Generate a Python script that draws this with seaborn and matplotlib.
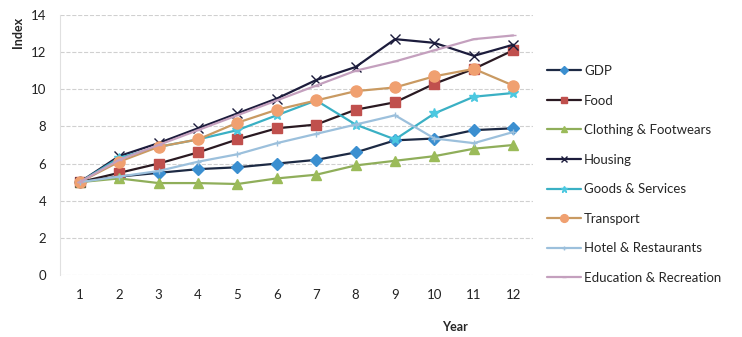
import pandas as pd
import seaborn as sns
import matplotlib.pyplot as plt

years = list(range(1, 13))
gdp = [5.0, 5.3, 5.5, 5.7, 5.8, 6.0, 6.2, 6.6, 7.25, 7.35, 7.8, 7.9]
food = [5.0, 5.5, 6.0, 6.6, 7.3, 7.9, 8.1, 8.9, 9.3, 10.3, 11.1, 12.1]
clothing = [5.0, 5.2, 4.95, 4.95, 4.9, 5.2, 5.4, 5.9, 6.15, 6.4, 6.8, 7.0]
housing = [5.0, 6.4, 7.1, 7.9, 8.7, 9.5, 10.5, 11.2, 12.7, 12.5, 11.8, 12.4]
goods = [5.0, 6.3, 6.9, 7.3, 7.8, 8.6, 9.4, 8.1, 7.3, 8.7, 9.6, 9.8]
transport = [5.0, 6.1, 6.9, 7.3, 8.2, 8.9, 9.4, 9.9, 10.1, 10.7, 11.1, 10.2]
hotel = [5.0, 5.3, 5.6, 6.1, 6.5, 7.1, 7.6, 8.1, 8.6, 7.35, 7.1, 7.7]
education = [5.0, 6.2, 7.0, 7.8, 8.6, 9.4, 10.2, 11.0, 11.5, 12.1, 12.7, 12.9]

names = ["GDP", "Food", "Clothing & Footwears", "Housing", "Goods & Services",
         "Transport", "Hotel & Restaurants", "Education & Recreation"]
series = [gdp, food, clothing, housing, goods, transport, hotel, education]

df = pd.concat([pd.DataFrame({"Year": years, "Index": v, "Series": n})
                for n, v in zip(names, series)], ignore_index=True)

line_colors = ["#1d2a44", "#2a1a22", "#8fae5a", "#1c1c3c", "#3ab0c4",
               "#c99a62", "#9cc0dc", "#c4a0be"]
face_colors = ["#3b8fd0", "#c0504d", "#9bbb59", "#1c1c3c", "#4bc8e0",
               "#f0a070", "#9cc0dc", "#c4a0be"]
marks = ["D", "s", "^", "x", "*", "o", "+", "_"]
sizes = [6, 7, 7, 7, 7, 8, 4, 4]

sns.set_style("white")
plt.rcParams["font.family"] = ["Lato", "DejaVu Sans"]

fig = plt.figure(figsize=(7.42, 3.37), dpi=100)
ax = fig.add_axes([60 / 742, 1 - 275 / 337, 473 / 742, 260 / 337])

for i, n in enumerate(names):
    sub = df[df["Series"] == n]
    sns.lineplot(data=sub, x="Year", y="Index", ax=ax, label=n,
                 color=line_colors[i], linewidth=1.6, marker=marks[i],
                 markersize=sizes[i], markerfacecolor=face_colors[i],
                 markeredgecolor=face_colors[i] if marks[i] not in ("x", "+", "_") else line_colors[i],
                 markeredgewidth=1.0)

ax.set_xlim(0.5, 12.5)
ax.set_ylim(0, 14)
ax.set_xticks(years)
ax.set_yticks(range(0, 15, 2))
ax.grid(axis="y", color="#d0d0d0", linestyle="--", linewidth=0.8)
for s in ["top", "right", "bottom"]:
    ax.spines[s].set_visible(False)
ax.spines["left"].set_color("#e0e0e0")
ax.tick_params(axis="both", labelsize=9.5, colors="#222222", length=0, pad=10)
ax.set_xlabel("")
ax.set_ylabel("")

fig.text(18 / 742, 1 - 32 / 337, "Index", rotation=90, fontsize=9,
         fontweight="bold", ha="center", va="center")
fig.text(455 / 742, 1 - 327 / 337, "Year", fontsize=9, fontweight="bold",
         ha="center", va="center")

handles, labels = ax.get_legend_handles_labels()
ax.get_legend().remove()
fig.legend(handles, labels, loc="upper left", bbox_to_anchor=(547 / 742, 1 - 65 / 337),
           frameon=False, fontsize=9.5, labelspacing=1.33, handlelength=2.6,
           handletextpad=0.2, borderaxespad=0, borderpad=0, markerscale=0.7)

plt.savefig("out.png", dpi=100)
